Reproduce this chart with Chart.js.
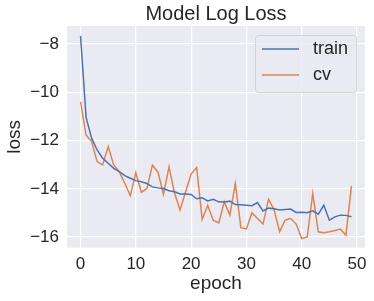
<!DOCTYPE html>
<html>
<head>
<meta charset="utf-8">
<script src="https://cdn.jsdelivr.net/npm/chart.js@4/dist/chart.umd.min.js"></script>
<style>
  html, body { margin: 0; padding: 0; background: #ffffff; }
  canvas { display: block; }
</style>
</head>
<body>
<canvas id="lossChart" width="374" height="301"></canvas>
<script>
const epochs = [0, 1, 2, 3, 4, 5, 6, 7, 8, 9, 10, 11, 12, 13, 14, 15, 16, 17, 18, 19,
    20, 21, 22, 23, 24, 25, 26, 27, 28, 29, 30, 31, 32, 33, 34, 35, 36, 37, 38, 39,
    40, 41, 42, 43, 44, 45, 46, 47, 48, 49];

const trainLoss = [-7.66, -11.04, -11.9, -12.39, -12.73, -12.94, -13.15, -13.29, -13.45, -13.56,
    -13.66, -13.71, -13.78, -13.92, -13.96, -13.99, -14.08, -14.12, -14.21, -14.21,
    -14.23, -14.41, -14.37, -14.5, -14.43, -14.54, -14.55, -14.51, -14.65, -14.66,
    -14.68, -14.7, -14.57, -14.92, -14.8, -14.83, -14.88, -14.86, -14.84, -14.98,
    -14.97, -14.99, -14.91, -15.05, -14.68, -15.3, -15.16, -15.09, -15.1, -15.16];

const cvLoss = [-10.39, -11.77, -12.04, -12.87, -13.01, -12.25, -13.01, -13.29, -13.77, -14.28,
    -13.33, -14.14, -13.99, -13.02, -13.3, -14.23, -13.09, -14.17, -14.88, -14.12,
    -13.39, -13.12, -15.27, -14.68, -15.3, -15.41, -14.54, -15.09, -13.78, -15.61,
    -15.66, -14.99, -15.23, -15.46, -14.44, -14.86, -15.78, -15.3, -15.23, -15.46,
    -16.06, -15.99, -14.19, -15.78, -15.82, -15.78, -15.73, -15.67, -15.92, -13.89];

const xTicks = [0, 10, 20, 30, 40, 50];
const yTicks = [-16, -14, -12, -10, -8];

const textColor = "#262626";
const fontFamily = "'Liberation Sans', Arial, sans-serif";

// grey plot background like seaborn darkgrid
const plotBackground = {
    id: "plotBackground",
    beforeDraw(chart) {
        const { ctx, chartArea } = chart;
        ctx.save();
        ctx.fillStyle = "#ffffff";
        ctx.fillRect(0, 0, chart.width, chart.height);
        ctx.fillStyle = "#EAEAF2";
        ctx.fillRect(chartArea.left, chartArea.top, chartArea.width, chartArea.height);
        ctx.restore();
    }
};

// matplotlib style legend box in the upper right
const boxLegend = {
    id: "boxLegend",
    afterDatasetsDraw(chart) {
        const { ctx, chartArea } = chart;
        const w = 101, h = 57;
        const left = chartArea.right - 9 - w;
        const top = chartArea.top + 9;

        ctx.save();
        ctx.beginPath();
        ctx.roundRect(left + 0.5, top + 0.5, w, h, 3);
        ctx.fillStyle = "rgba(234, 234, 242, 0.8)";
        ctx.fill();
        ctx.strokeStyle = "rgba(204, 204, 204, 0.8)";
        ctx.lineWidth = 1;
        ctx.stroke();

        ctx.font = "18px " + fontFamily;
        ctx.textBaseline = "middle";
        ctx.textAlign = "left";
        chart.data.datasets.forEach((ds, i) => {
            const y = top + 14 + i * 26;
            ctx.beginPath();
            ctx.moveTo(left + 7, y);
            ctx.lineTo(left + 44, y);
            ctx.strokeStyle = ds.borderColor;
            ctx.lineWidth = ds.borderWidth;
            ctx.stroke();
            ctx.fillStyle = textColor;
            ctx.fillText(ds.label, left + 58, y);
        });
        ctx.restore();
    }
};

const ctx = document.getElementById("lossChart").getContext("2d");

new Chart(ctx, {
    type: "line",
    data: {
        labels: epochs,
        datasets: [
            {
                label: "train",
                data: trainLoss,
                borderColor: "#4C72B0",
                borderWidth: 1.5,
                pointRadius: 0,
                tension: 0,
                fill: false
            },
            {
                label: "cv",
                data: cvLoss,
                borderColor: "#DD8452",
                borderWidth: 1.5,
                pointRadius: 0,
                tension: 0,
                fill: false
            }
        ]
    },
    options: {
        responsive: false,
        animation: false,
        devicePixelRatio: 1,
        layout: {
            padding: { left: 0, right: 9, top: 0, bottom: 0 }
        },
        plugins: {
            legend: { display: false },
            tooltip: { enabled: false },
            title: {
                display: true,
                text: "Model Log Loss",
                color: textColor,
                fullSize: false,
                font: { family: fontFamily, size: 20, weight: "normal", lineHeight: 1.2 },
                padding: { top: 2, bottom: 0 }
            }
        },
        scales: {
            x: {
                type: "linear",
                min: -2.45,
                max: 51.45,
                afterBuildTicks: (scale) => {
                    scale.ticks = xTicks.map(v => ({ value: v }));
                },
                afterFit: (scale) => {
                    scale.height = 53.3;
                },
                grid: { color: "#ffffff", lineWidth: 1.2, drawTicks: false },
                border: { display: false },
                ticks: {
                    color: textColor,
                    padding: 6,
                    maxRotation: 0,
                    font: { family: fontFamily, size: 17 }
                },
                title: {
                    display: true,
                    text: "epoch",
                    color: textColor,
                    font: { family: fontFamily, size: 19 },
                    padding: { top: 0, bottom: 6 }
                }
            },
            y: {
                type: "linear",
                min: -16.44,
                max: -7.25,
                afterBuildTicks: (scale) => {
                    scale.ticks = yTicks.map(v => ({ value: v }));
                },
                afterFit: (scale) => {
                    scale.width = 67;
                },
                grid: { color: "#ffffff", lineWidth: 1.2, drawTicks: false },
                border: { display: false },
                ticks: {
                    color: textColor,
                    padding: 8,
                    font: { family: fontFamily, size: 17 },
                    callback: (v) => String(v).replace("-", "\u2212")
                },
                title: {
                    display: true,
                    text: "loss",
                    color: textColor,
                    font: { family: fontFamily, size: 19 },
                    padding: { top: 3, bottom: 0 }
                }
            }
        }
    },
    plugins: [plotBackground, boxLegend]
});
</script>
</body>
</html>
